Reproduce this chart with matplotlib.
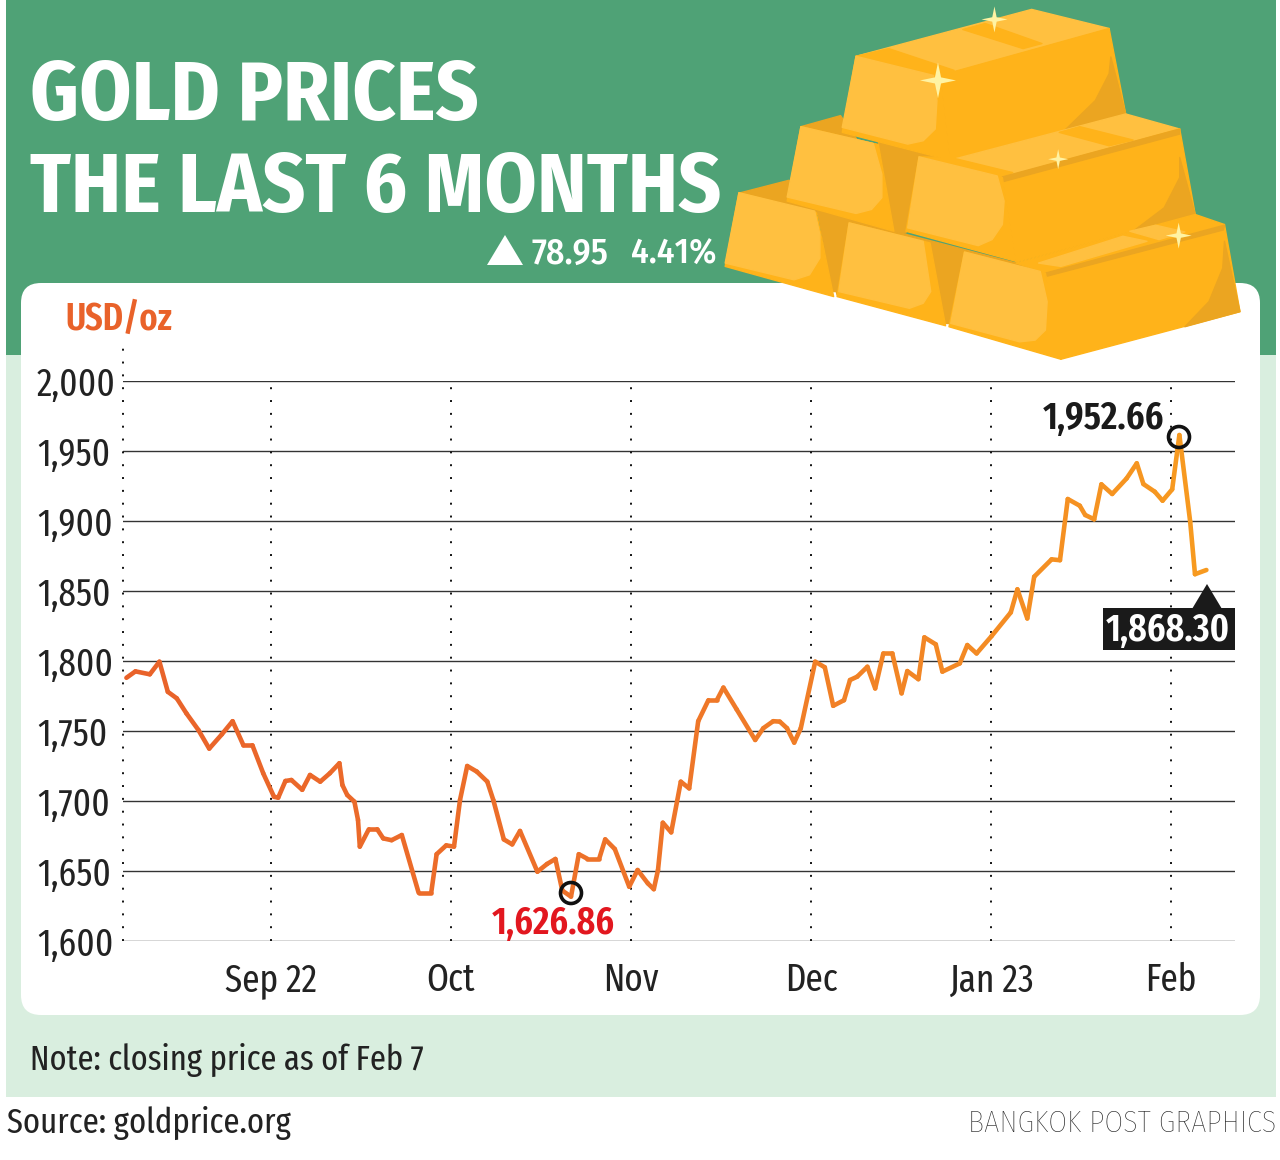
import numpy as np
import matplotlib
matplotlib.use("Agg")
import matplotlib.pyplot as plt
from matplotlib.collections import LineCollection
from matplotlib.colors import LinearSegmentedColormap
from matplotlib.patches import Circle, FancyBboxPatch, Polygon, Rectangle

COND = ['Fira Sans Condensed', 'Roboto', 'DejaVu Sans']
XCOND = ['Fira Sans Extra Condensed', 'Fira Sans Condensed', 'Roboto', 'DejaVu Sans']
plt.rcParams['font.family'] = XCOND

# days counted from 1 Sep
days = [-24.1, -22.6, -20.2, -18.6, -17.2, -15.7, -14.1, -12.1, -10.3, -8.2, -6.4, -4.6, -3.1, -1.3,
        0.5, 1.2, 2.4, 3.4, 5.2, 6.5, 8.2, 9.8, 11.4, 11.9, 12.7, 13.9, 14.5, 14.8, 16.3, 17.7, 18.7,
        20.1, 21.8, 24.6, 26.7, 27.6, 29.2, 30.5, 31.5, 32.7, 34.3, 36.05, 37.05, 38.8, 40.2, 41.5,
        44.4, 46.0, 47.4, 48.55, 50.0, 51.3, 52.7, 54.7, 55.7, 57.3, 59.7, 61.1, 62.8, 63.8, 64.5,
        65.3, 66.7, 68.3, 69.7, 71.2, 72.9, 74.3, 75.4, 77.6, 80.7, 82.05, 83.7, 84.8, 86.0, 87.2,
        88.3, 90.7, 92.3, 93.7, 95.5, 96.5, 97.7, 99.4, 100.7, 102.05, 103.55, 105.1, 106.05, 107.9,
        108.9, 110.8, 111.9, 114.8, 116.05, 117.6, 120.1, 123.3, 124.4, 126.05, 127.2, 130.1, 131.5,
        132.8, 134.8, 135.7, 137.2, 138.4, 140.2, 142.6, 144.3, 145.4, 147.3, 148.6, 150.2, 151.4,
        153.2, 154.0, 155.9]
prices = [1788, 1792.6, 1790.5, 1799.5, 1778, 1773.3, 1762.6, 1750.7, 1737.4, 1747.6, 1757, 1739.8, 1739.8, 1719.8,
          1703, 1702.4, 1714.3, 1715, 1708, 1718.6, 1713.8, 1719.8, 1727, 1711.4, 1704.3, 1699.5, 1686.4, 1667.4, 1679.8, 1679.8, 1673.3,
          1672, 1675.7, 1634.5, 1634.5, 1662, 1668.3, 1667.4, 1700.7, 1725, 1721, 1713.8, 1700.7, 1672.6, 1669, 1678.6,
          1649.5, 1655, 1658.6, 1636, 1631.7, 1662, 1658.8, 1658.8, 1672.6, 1665.7, 1638.8, 1650.7, 1641.2, 1637, 1650.7,
          1684.5, 1677.6, 1713.8, 1709, 1757, 1772, 1772, 1781, 1765.5, 1743.6, 1752, 1757, 1756.7, 1752, 1741.7,
          1752, 1799.5, 1795.5, 1768, 1772, 1786.4, 1788.8, 1795.9, 1780.4, 1805.4, 1805.4, 1776.9, 1792.8, 1787,
          1816.9, 1811.9, 1792.4, 1798.3, 1811.4, 1805.4, 1817.8, 1834.7, 1851.2, 1830.4, 1860.2, 1872.6, 1872,
          1915.7, 1910.9, 1904.3, 1901.2, 1926.2, 1919.3, 1930.4, 1941.2, 1926.4, 1920.9, 1914.5, 1922.6, 1961.4,
          1899.5, 1862, 1865]
month_ticks = [0, 30, 60, 90, 120, 150]
month_labels = ['Sep 22', 'Oct', 'Nov', 'Dec', 'Jan 23', 'Feb']
price_ticks = [1600, 1650, 1700, 1750, 1800, 1850, 1900, 1950, 2000]

W, H = 1280, 1160
GREEN = '#4fa276'
PALE = '#d9eedf'
BASE = '#ffb31a'
LIGHT = '#ffc040'
DARK = '#eba521'
STAR = '#fff3a3'

fig = plt.figure(figsize=(W / 100, H / 100), dpi=100, facecolor='white')

# background layer in pixel coordinates
bg = fig.add_axes([0, 0, 1, 1])
bg.set_xlim(0, W)
bg.set_ylim(H, 0)
bg.axis('off')
bg.add_patch(Rectangle((6, 355), 1270, 742, color=PALE, lw=0))
bg.add_patch(Rectangle((6, 0), 1270, 355, color=GREEN, lw=0))
bg.add_patch(FancyBboxPatch((41, 303), 1199, 692, boxstyle='round,pad=20,rounding_size=20', fc='white', ec='none'))

# chart
ax = fig.add_axes([123 / W, 1 - 941 / H, (1235 - 123) / W, (941 - 381) / H])
ax.patch.set_alpha(0)
ax.set_xlim(-24.67, 160.67)
ax.set_ylim(1600, 2000)
for s in ax.spines.values():
    s.set_visible(False)
ax.set_yticks(price_ticks, [f'{p:,}' for p in price_ticks])
ax.set_xticks(month_ticks, month_labels)
ax.tick_params(length=0, labelsize=27.5, labelcolor='#222222')
ax.tick_params(axis='x', pad=15)
ax.tick_params(axis='y', pad=62)
for lab in ax.get_yticklabels():
    lab.set_ha('left')
ax.grid(axis='y', color='#333333', lw=1)
ax.set_axisbelow(True)
for d in month_ticks:
    ax.plot([d, d], [1600, 2000], color='#111111', lw=1.4, ls=(0, (1, 5.6)), zorder=1)
ax.plot([-24.67, -24.67], [1600, 2025], color='#111111', lw=1.4, ls=(0, (1, 5.6)), clip_on=False, zorder=1)

# line goes from red orange to amber along x
pts = np.column_stack([days, prices])
segs = np.stack([pts[:-1], pts[1:]], axis=1)
cmap = LinearSegmentedColormap.from_list('gold', ['#e9622a', '#ee7429', '#f79a20'])
lc = LineCollection(segs, cmap=cmap, linewidths=3.3, capstyle='round', zorder=3)
lc.set_array(np.array(days[:-1]))
ax.add_collection(lc)

# overlay in pixel coordinates
top = fig.add_axes([0, 0, 1, 1])
top.set_xlim(0, W)
top.set_ylim(H, 0)
top.axis('off')
top.patch.set_alpha(0)


def gold(points, color, z=5):
    xy = [(720 + x / 2.904, y / 2.984) for x, y in points]
    top.add_patch(Polygon(xy, closed=True, fc=color, ec=color, lw=1, joinstyle='round', zorder=z))


def sparkle(x, y, r):
    cx, cy = 720 + x / 2.904, y / 2.984
    ang = np.arange(8) * np.pi / 4
    rad = np.where(np.arange(8) % 2 == 0, r, r * 0.24)
    xy = np.column_stack([cx + rad * np.sin(ang), cy + rad * np.cos(ang)])
    top.add_patch(Polygon(xy, closed=True, fc=STAR, ec='none', zorder=6))


# back to front
gold([(285, 640), (505, 690), (860, 785), (945, 815), (665, 965), (650, 965), (340, 880)], DARK)
gold([(195, 590), (505, 690), (375, 670), (285, 640)], DARK)
gold([(460, 425), (668, 478), (578, 470), (540, 695), (505, 695)], DARK)
gold([(60, 575), (200, 538), (355, 640), (285, 640)], DARK)
gold([(235, 378), (350, 345), (400, 420), (460, 432)], DARK)
gold([(285, 635), (375, 660), (345, 870), (325, 870)], DARK)
gold([(610, 725), (715, 750), (665, 965), (650, 965)], DARK)

gold([(55, 575), (280, 635), (330, 885), (15, 795)], BASE)
gold([(55, 575), (275, 630), (290, 700), (290, 770), (260, 820), (215, 835), (15, 785)], LIGHT)
gold([(235, 378), (460, 432), (505, 690), (195, 600)], BASE)
gold([(235, 378), (445, 428), (470, 520), (470, 590), (440, 625), (395, 637), (195, 588)], LIGHT)
gold([(375, 665), (610, 725), (655, 972), (340, 885)], BASE)
gold([(375, 665), (590, 720), (612, 870), (590, 905), (550, 920), (345, 870)], LIGHT)

# top bar
gold([(395, 168), (905, 28), (1130, 85), (640, 225)], LIGHT)
gold([(395, 168), (490, 145), (680, 210), (640, 225)], BASE)
gold([(705, 88), (770, 70), (935, 130), (880, 145)], BASE)
gold([(640, 225), (1130, 85), (1178, 340), (668, 478)], BASE)
gold([(1135, 170), (1178, 340), (1000, 390), (1090, 300), (1130, 220)], DARK)
gold([(395, 168), (640, 225), (668, 478), (355, 395)], BASE)
gold([(395, 168), (620, 225), (630, 300), (625, 385), (590, 420), (545, 430), (355, 380)], LIGHT)

# middle right bar
gold([(668, 478), (1178, 340), (1335, 385), (820, 530)], LIGHT)
gold([(578, 468), (670, 470), (850, 515), (820, 530)], BASE)
gold([(985, 395), (1045, 378), (1200, 418), (1130, 435)], BASE)
gold([(820, 530), (1335, 385), (1380, 640), (860, 782)], BASE)
gold([(820, 528), (1335, 385), (1335, 400), (822, 542)], DARK)
gold([(1335, 470), (1380, 640), (1200, 690), (1290, 620), (1335, 530)], DARK)
gold([(578, 468), (820, 530), (860, 780), (540, 690)], BASE)
gold([(578, 468), (805, 525), (825, 600), (820, 670), (790, 715), (750, 733), (545, 680)], LIGHT)

# bottom right bar
gold([(860, 785), (1380, 640), (1465, 670), (945, 815)], BASE)
gold([(925, 785), (1170, 705), (1240, 720), (990, 795)], LIGHT)
gold([(1190, 690), (1265, 672), (1350, 692), (1275, 715)], LIGHT)
gold([(945, 815), (1465, 670), (1510, 930), (990, 1072)], BASE)
gold([(945, 815), (1465, 672), (1462, 686), (950, 824)], DARK)
gold([(1465, 720), (1510, 930), (1350, 975), (1420, 900), (1460, 800)], DARK)
gold([(710, 752), (945, 815), (990, 1072), (665, 975)], BASE)
gold([(710, 752), (930, 810), (950, 900), (945, 985), (915, 1015), (870, 1020), (670, 965)], LIGHT)

sparkle(797, 58, 13)
sparkle(633, 240, 18)
sparkle(982, 475, 10)
sparkle(1332, 703, 13)

# headline
top.text(30, 120, 'GOLD PRICES', color='white', fontsize=60, fontweight='bold', va='baseline', family=COND)
top.text(30, 212, 'THE LAST 6 MONTHS', color='white', fontsize=60, fontweight='bold', va='baseline', family=COND)
top.add_patch(Polygon([(487, 265), (523, 265), (505, 235)], closed=True, fc='white', ec='none'))
top.text(532, 264, '78.95', color='white', fontsize=26, fontweight='medium', va='baseline', family=COND)
top.text(631, 264, '4.41%', color='white', fontsize=25.5, fontweight='medium', va='baseline', family=COND)

# chart notes
top.text(65, 330, 'USD/oz', color='#e9622a', fontsize=27, fontweight='semibold', va='baseline')
top.text(1043, 429, '1,952.66', color='#1a1a1a', fontsize=28, fontweight='semibold', va='baseline')
top.text(492, 934, '1,626.86', color='#e2171f', fontsize=28, fontweight='semibold', va='baseline')
top.add_patch(Circle((1179, 437), 10.5, fc='none', ec='#111111', lw=2.6, zorder=4))
top.add_patch(Circle((571, 893), 10.5, fc='none', ec='#111111', lw=2.6, zorder=4))
top.add_patch(Rectangle((1103, 608), 132, 42, color='#1a1a1a', lw=0))
top.add_patch(Polygon([(1192, 609), (1222, 609), (1207, 584)], closed=True, fc='#1a1a1a', ec='none'))
top.text(1168, 641, '1,868.30', color='white', fontsize=28, fontweight='semibold', va='baseline', ha='center')

# footer
top.text(30, 1070, 'Note: closing price as of Feb 7', color='#222222', fontsize=25.4, va='baseline')
top.text(7, 1133, 'Source: goldprice.org', color='#222222', fontsize=25.5, va='baseline')
top.text(1276, 1132, 'BANGKOK POST GRAPHICS', color='#222222', fontsize=21.8, fontweight='light', va='baseline', ha='right', family=COND)

fig.savefig('out.png', dpi=100)
